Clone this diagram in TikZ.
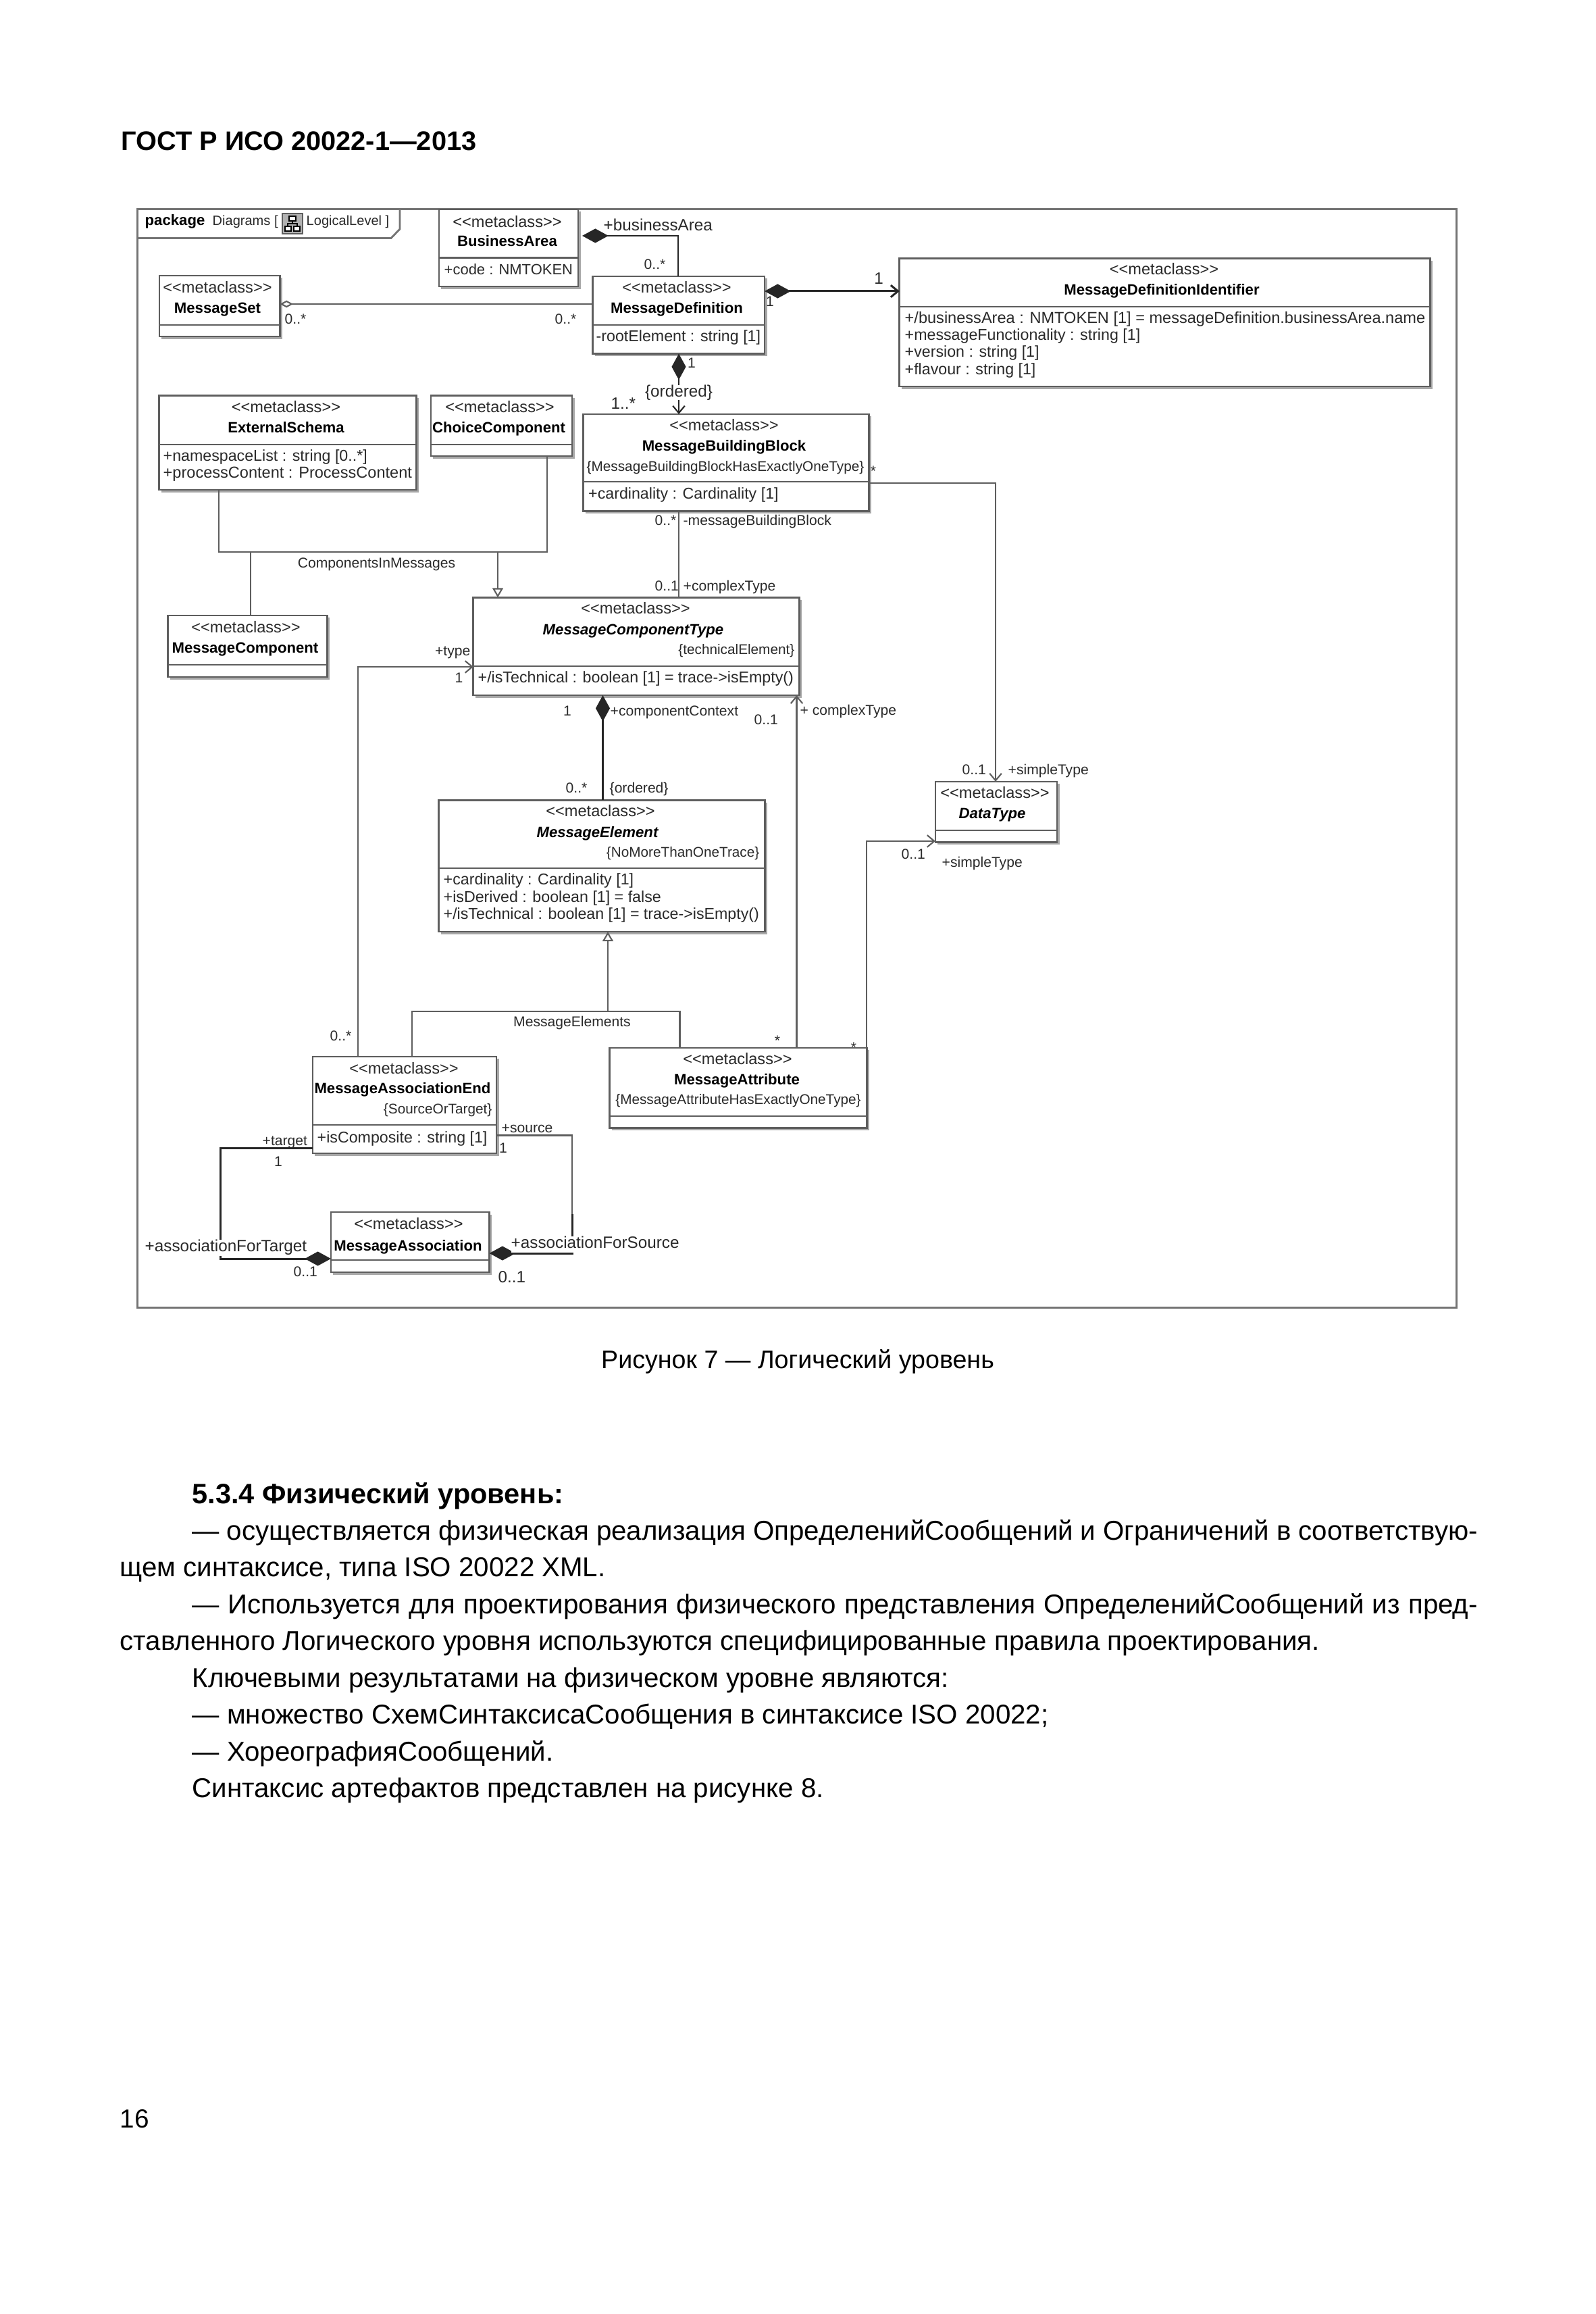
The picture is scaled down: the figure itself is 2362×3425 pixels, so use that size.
\documentclass[tikz,border=0pt]{standalone}
\usepackage{fontspec}
\setmainfont{Liberation Sans}
\newfontfamily\umlfont{Liberation Sans}
\usetikzlibrary{arrows.meta,shadows}
\definecolor{linegray}{HTML}{5E5E5E}
\definecolor{framegray}{HTML}{747474}
\definecolor{shadowgray}{HTML}{A8A8A8}
\definecolor{umltext}{HTML}{2A2A2A}
\newcommand{\umlsize}[1]{\fontsize{#1pt}{#1pt}\selectfont\umlfont}
\tikzset{
    classbox/.style = {draw=linegray, shape=rectangle, fill=white, inner sep=0pt, outer sep=0pt, line width=0.8pt,
        drop shadow={shadow xshift=1pt, shadow yshift=-1pt, fill=shadowgray, opacity=1}},
    compart/.style = {draw=linegray, line width=0.8pt},
    stereo/.style = {inner sep=0pt, text=umltext, text height=5pt, text depth=1.4pt, font=\umlsize{6.7}},
    classname/.style = {inner sep=0pt, text=black, text height=5pt, text depth=1.4pt, font=\umlsize{6.3}\bfseries},
    abstractname/.style = {classname, font=\umlsize{6.3}\bfseries\itshape},
    constraint/.style = {inner sep=0pt, text=umltext, text height=5pt, text depth=1.4pt, font=\umlsize{5.9}},
    attrib/.style = {anchor=west, inner sep=0pt, text=umltext, text height=5pt, text depth=1.4pt, font=\umlsize{6.6}},
    rolelabel/.style = {inner sep=0pt, text=umltext, text height=4.5pt, text depth=1.2pt, font=\umlsize{6}},
    biglabel/.style = {inner sep=0pt, text=umltext, text height=5pt, text depth=1.4pt, font=\umlsize{6.9}},
    assoc/.style = {draw=linegray, line width=0.6pt},
    assocdark/.style = {draw=black!85, line width=0.85pt},
    comp/.tip = {Diamond[length=11pt,width=6pt]},
    aggr/.tip = {Diamond[open,length=5.5pt,width=3pt]},
    barb/.tip = {Straight Barb[length=3pt,width=5pt]},
    gener/.tip = {Triangle[length=4pt,width=4.5pt,fill=white]},
    pagetext/.style = {anchor=base west, inner sep=0pt, font=\fontsize{11.45}{14}\selectfont},
}
\begin{document}
\begin{tikzpicture}[x=0.01cm, y=-0.01cm]
    \fill[white] (0,0) rectangle (2362,3425);
    \useasboundingbox (0,0) rectangle (2362,3425);

    % package frame
    \node[draw=framegray, line width=0.9pt, inner sep=0pt, outer sep=0pt, minimum width=19.52cm, minimum height=16.25cm] (frame) at (1180,1122.5) {};
    \draw[draw=framegray, line width=0.8pt] (frame.west |- 0,352.5) -- (579,352.5) -- (592,339) -- (frame.north -| 592,0);
    \node[anchor=west, inner sep=0pt, font=\umlsize{6.3}\bfseries] (pkgkey) at (214,328) {package};
    \node[anchor=west, inner sep=0pt, font=\umlsize{5.7}, text=umltext] (pkgname) at (314,328) {Diagrams [};
    \node[draw=linegray, fill=black!30, minimum width=0.3cm, minimum height=0.3cm, inner sep=0pt] (pkgicon) at (433,331) {};
    \draw[line width=0.4pt, fill=white] (428,320) rectangle (438,327);
    \draw[line width=0.4pt, fill=white] (422,335) rectangle (431,342);
    \draw[line width=0.4pt, fill=white] (435,335) rectangle (444,342);
    \draw[line width=0.4pt] (433,327) -- (433,331) (426,335) -- (426,331) -- (440,331) -- (440,335);
    \node[anchor=west, inner sep=0pt, font=\umlsize{5.7}, text=umltext] (pkgdiag) at (453,328) {LogicalLevel ]};

    % classes
    \node[classbox, minimum width=2.06cm, minimum height=1.14cm] (bizarea) at (753,367) {};
    \node[classbox, minimum width=1.785cm, minimum height=0.90cm] (msgset) at (325.25,453) {};
    \node[classbox, minimum width=2.545cm, minimum height=1.145cm] (msgdef) at (1004.75,466.25) {};
    \node[classbox, minimum width=3.80cm, minimum height=1.395cm] (extschema) at (426,655.25) {};
    \node[classbox, minimum width=2.09cm, minimum height=0.895cm] (choicecomp) at (742.5,630.25) {};
    \node[classbox, minimum width=4.22cm, minimum height=1.435cm] (msgblock) at (1075,684.75) {};
    \node[classbox, minimum width=2.36cm, minimum height=0.91cm] (msgcomp) at (366.5,956.5) {};
    \node[classbox, minimum width=4.825cm, minimum height=1.445cm] (comptype) at (942.25,956.75) {};
    \node[classbox, minimum width=4.82cm, minimum height=1.945cm] (msgelem) at (891,1281.75) {};
    \node[classbox, minimum width=7.85cm, minimum height=1.895cm] (defident) at (1724.5,477.25) {};
    \node[classbox, minimum width=1.80cm, minimum height=0.895cm] (datatype) at (1475,1201.75) {};
    \node[classbox, minimum width=3.80cm, minimum height=1.185cm] (msgattr) at (1093,1610.25) {};
    \node[classbox, minimum width=2.72cm, minimum height=1.43cm] (assocend) at (599,1635.5) {};
    \node[classbox, minimum width=2.345cm, minimum height=0.89cm] (msgassoc) at (607.25,1838.5) {};

    % compartments
    \draw[compart] (bizarea.west |- 0,381.5) -- (bizarea.east |- 0,381.5);
    \draw[compart] (msgset.west |- 0,481) -- (msgset.east |- 0,481);
    \draw[compart] (msgdef.west |- 0,481) -- (msgdef.east |- 0,481);
    \draw[compart] (extschema.west |- 0,658) -- (extschema.east |- 0,658);
    \draw[compart] (choicecomp.west |- 0,658) -- (choicecomp.east |- 0,658);
    \draw[compart] (msgblock.west |- 0,713) -- (msgblock.east |- 0,713);
    \draw[compart] (msgcomp.west |- 0,984) -- (msgcomp.east |- 0,984);
    \draw[compart] (comptype.west |- 0,986) -- (comptype.east |- 0,986);
    \draw[compart] (msgelem.west |- 0,1285) -- (msgelem.east |- 0,1285);
    \draw[compart] (defident.west |- 0,454) -- (defident.east |- 0,454);
    \draw[compart] (datatype.west |- 0,1229) -- (datatype.east |- 0,1229);
    \draw[compart] (msgattr.west |- 0,1652) -- (msgattr.east |- 0,1652);
    \draw[compart] (assocend.west |- 0,1665) -- (assocend.east |- 0,1665);
    \draw[compart] (msgassoc.west |- 0,1865) -- (msgassoc.east |- 0,1865);

    % class texts
    \node[stereo] (bizareaM) at (751,330) {<<metaclass>>};
    \node[classname] (bizareaN) at (751,358) {BusinessArea};
    \node[attrib, font=\umlsize{6.25}] (bizareaA) at (657,400) {+code : NMTOKEN};

    \node[stereo] (msgsetM) at (322,427.5) {<<metaclass>>};
    \node[classname] (msgsetN) at (322,457) {MessageSet};

    \node[stereo] (msgdefM) at (1002,427) {<<metaclass>>};
    \node[classname] (msgdefN) at (1002,457) {MessageDefinition};
    \node[attrib] (msgdefA) at (882,499) {-rootElement : string [1]};

    \node[stereo] (extschemaM) at (423.5,604) {<<metaclass>>};
    \node[classname] (extschemaN) at (423.5,634) {ExternalSchema};
    \node[attrib] (extschemaA) at (241,676) {+namespaceList : string [0..*]};
    \node[attrib, font=\umlsize{6.7}] (extschemaB) at (241,701) {+processContent : ProcessContent};

    \node[stereo] (choicecompM) at (740,604) {<<metaclass>>};
    \node[classname] (choicecompN) at (738.5,634) {ChoiceComponent};

    \node[stereo] (msgblockM) at (1072,631.5) {<<metaclass>>};
    \node[classname] (msgblockN) at (1072,661.5) {MessageBuildingBlock};
    \node[constraint] (msgblockC) at (1074,691) {\{MessageBuildingBlockHasExactlyOneType\}};
    \node[attrib] (msgblockA) at (870.5,732) {+cardinality : Cardinality [1]};

    \node[stereo] (msgcompM) at (364,930) {<<metaclass>>};
    \node[classname] (msgcompN) at (363,960) {MessageComponent};

    \node[stereo] (comptypeM) at (941,902.5) {<<metaclass>>};
    \node[abstractname] (comptypeN) at (937.5,933.5) {MessageComponentType};
    \node[constraint, anchor=east] (comptypeC) at (1177,962.5) {\{technicalElement\}};
    \node[attrib] (comptypeA) at (707,1004) {+/isTechnical : boolean [1] = trace->isEmpty()};

    \node[stereo] (msgelemM) at (889,1202) {<<metaclass>>};
    \node[abstractname] (msgelemN) at (884.5,1233) {MessageElement};
    \node[constraint, anchor=east] (msgelemC) at (1125,1262) {\{NoMoreThanOneTrace\}};
    \node[attrib] (msgelemA) at (656,1303) {+cardinality : Cardinality [1]};
    \node[attrib] (msgelemB) at (656,1329) {+isDerived : boolean [1] = false};
    \node[attrib] (msgelemD) at (656,1354) {+/isTechnical : boolean [1] = trace->isEmpty()};

    \node[stereo] (defidentM) at (1723.5,400) {<<metaclass>>};
    \node[classname] (defidentN) at (1720,430) {MessageDefinitionIdentifier};
    \node[attrib, font=\umlsize{6.7}] (defidentA) at (1339,472) {+/businessArea : NMTOKEN [1] = messageDefinition.businessArea.name};
    \node[attrib] (defidentB) at (1339,497.5) {+messageFunctionality : string [1]};
    \node[attrib] (defidentD) at (1339,522.5) {+version : string [1]};
    \node[attrib] (defidentE) at (1339,548) {+flavour : string [1]};

    \node[stereo] (datatypeM) at (1473,1175) {<<metaclass>>};
    \node[abstractname] (datatypeN) at (1469,1205.5) {DataType};

    \node[stereo] (msgattrM) at (1092,1569) {<<metaclass>>};
    \node[classname] (msgattrN) at (1091,1599) {MessageAttribute};
    \node[constraint] (msgattrC) at (1093,1628) {\{MessageAttributeHasExactlyOneType\}};

    \node[stereo] (assocendM) at (598,1583) {<<metaclass>>};
    \node[classname] (assocendN) at (596,1612.5) {MessageAssociationEnd};
    \node[constraint, anchor=east] (assocendC) at (729,1642) {\{SourceOrTarget\}};
    \node[attrib] (assocendA) at (469,1685) {+isComposite : string [1]};

    \node[stereo] (msgassocM) at (605,1813) {<<metaclass>>};
    \node[classname] (msgassocN) at (604,1845) {MessageAssociation};

    % junctions
    \coordinate (compbarl) at (324,817);
    \coordinate (compbarr) at (810,817);
    \coordinate (compjoin) at (737,817);
    \coordinate (compbranch) at (371,817);
    \coordinate (elembarl) at (610,1497);
    \coordinate (elembarr) at (1006.5,1497);
    \coordinate (elemjoin) at (900,1497);
    \coordinate (tgttop) at (326,1699);
    \coordinate (tgtbot) at (326,1863);
    \coordinate (srcbend) at (847,1797);

    % connectors
    \draw[assocdark, line width=0.7pt, {comp}-, shorten <=1.7pt] (bizarea.east |- 0,349) -| (msgdef.north -| 1004,0);
    \draw[assoc, {aggr}-] (msgset.east |- 0,450) -- (msgdef.west |- 0,450);
    \draw[assocdark, {comp}-{barb}] (msgdef.east |- 0,431) -- (defident.west |- 0,431);
    \draw[assocdark, line width=0.6pt, {comp}-{barb}] (msgdef.south -| 1005,0) -- (msgblock.north -| 1005,0);
    \draw[assoc] (msgblock.south -| 1005,0) -- (comptype.north -| 1005,0);
    \draw[assoc, -{barb}] (msgblock.east |- 0,715) -| (datatype.north -| 1474,0);
    \draw[assoc] (extschema.south -| 324,0) -- (compbarl) -- (compbarr) -- (choicecomp.south -| 810,0);
    \draw[assoc, -{gener}] (compjoin) -- (comptype.north -| 737,0);
    \draw[assoc] (compbranch) -- (msgcomp.north -| 371,0);
    \draw[assoc, -{barb}] (assocend.north -| 530,0) |- (comptype.west |- 0,987);
    \draw[assocdark, {comp}-] (comptype.south -| 892.5,0) -- (msgelem.north -| 892.5,0);
    \draw[assoc, -{barb}] (msgattr.north -| 1179.5,0) -- (comptype.south -| 1179.5,0);
    \draw[assoc, -{gener}] (elemjoin) -- (msgelem.south -| 900,0);
    \draw[assoc] (assocend.north -| 610,0) -- (elembarl) -- (elembarr) -- (msgattr.north -| 1006.5,0);
    \draw[assoc, -{barb}] (msgattr.north east) |- (datatype.west |- 0,1245);
    \draw[assocdark, -{comp}] (assocend.west |- 0,1699) -- (tgttop) -- (tgtbot) -- (msgassoc.west |- 0,1863);
    \draw[assoc] (assocend.east |- 0,1680.5) -| (srcbend);
    \draw[assocdark, -{comp}] (srcbend) |- (msgassoc.east |- 0,1855);

    % role and multiplicity labels
    \node[biglabel, anchor=west] (lbizrole) at (893,335) {+businessArea};
    \node[rolelabel, anchor=west] (lbizmult) at (953,393) {0..*};
    \node[rolelabel, anchor=west] (lsetmulta) at (421,474) {0..*};
    \node[rolelabel, anchor=west] (lsetmultb) at (821,474) {0..*};
    \node[biglabel] (lidentmult) at (1301,414) {1};
    \node[rolelabel] (ldefone) at (1140,448) {1};
    \node[rolelabel] (lblockone) at (1024,539) {1};
    \node[biglabel, fill=white] (lblockord) at (1005,581) {\{ordered\}};
    \node[biglabel, anchor=west] (lblockmult) at (904,599) {1..*};
    \node[rolelabel, anchor=west] (lblockmulta) at (969,772) {0..*};
    \node[rolelabel, anchor=west] (lblockrole) at (1011,772) {-messageBuildingBlock};
    \node[rolelabel, anchor=west] (ltypemult) at (969,869) {0..1};
    \node[rolelabel, anchor=west] (ltyperole) at (1011,869) {+complexType};
    \node[rolelabel] (lblockstar) at (1293,699) {*};
    \node[rolelabel, anchor=west] (ldatamult) at (1424,1141) {0..1};
    \node[rolelabel, anchor=west] (ldatarole) at (1492,1141) {+simpleType};
    \node[rolelabel] (lcompnames) at (557.5,835) {ComponentsInMessages};
    \node[rolelabel, anchor=east] (lcomprole) at (697,965) {+type};
    \node[rolelabel] (lcompone) at (679.5,1005) {1};
    \node[rolelabel, anchor=west] (lendmult) at (488,1535) {0..*};
    \node[rolelabel] (lctxone) at (840,1054) {1};
    \node[rolelabel, anchor=west] (lctxrole) at (903,1054) {+componentContext};
    \node[rolelabel, anchor=west] (lelemmult) at (837,1168) {0..*};
    \node[rolelabel, anchor=west] (lelemord) at (902,1168) {\{ordered\}};
    \node[rolelabel, anchor=west] (lcplxmult) at (1116,1067) {0..1};
    \node[rolelabel, anchor=west] (lcplxrole) at (1184,1053) {+ complexType};
    \node[rolelabel] (lattrstara) at (1151,1542) {*};
    \node[rolelabel] (lelemsname) at (847,1514) {MessageElements};
    \node[rolelabel] (lattrstarb) at (1264,1552) {*};
    \node[rolelabel, anchor=west] (lsimplemult) at (1334,1266) {0..1};
    \node[rolelabel, anchor=west] (lsimplerole) at (1394,1278) {+simpleType};
    \node[rolelabel, anchor=west] (ltgtrole) at (388,1690) {+target};
    \node[rolelabel] (ltgtone) at (412,1721) {1};
    \node[biglabel, anchor=west, fill=white, text depth=2pt] (ltgtassoc) at (214,1847) {+associationForTarget};
    \node[rolelabel, anchor=west] (ltgtmult) at (434,1884) {0..1};
    \node[rolelabel, anchor=west] (lsrcrole) at (742,1671) {+source};
    \node[rolelabel] (lsrcone) at (745,1701) {1};
    \node[biglabel, anchor=west, fill=white, text depth=2pt] (lsrcassoc) at (756,1842) {+associationForSource};
    \node[biglabel, anchor=west] (lsrcmult) at (737,1892) {0..1};

    % page text
    \node[pagetext, font=\fontsize{11.3}{14}\selectfont\bfseries] (header) at (179,223) {ГОСТ Р ИСО 20022-1—2013};
    \node[pagetext, anchor=base, font=\fontsize{10.7}{14}\selectfont] (caption) at (1181,2025) {Рисунок 7 — Логический уровень};
    \node[pagetext, font=\fontsize{11.8}{14}\selectfont\bfseries] (sechead) at (284,2225) {5.3.4 Физический уровень:};
    \node[pagetext] (linea) at (284,2279) {\makebox[19.02cm][s]{— осуществляется физическая реализация ОпределенийСообщений и Ограничений в соответствую-}};
    \node[pagetext] (lineb) at (177,2333) {щем синтаксисе, типа ISO 20022 XML.};
    \node[pagetext] (linec) at (284,2388) {\makebox[19.02cm][s]{— Используется для проектирования физического представления ОпределенийСообщений из пред-}};
    \node[pagetext] (lined) at (177,2442) {ставленного Логического уровня используются специфицированные правила проектирования.};
    \node[pagetext] (linee) at (284,2497) {Ключевыми результатами на физическом уровне являются:};
    \node[pagetext] (linef) at (284,2551) {— множество СхемСинтаксисаСообщения в синтаксисе ISO 20022;};
    \node[pagetext] (lineg) at (284,2606) {— ХореографияСообщений.};
    \node[pagetext] (lineh) at (284,2660) {Синтаксис артефактов представлен на рисунке 8.};
    \node[pagetext, font=\fontsize{11}{14}\selectfont] (pagenum) at (177,3149) {16};
\end{tikzpicture}
\end{document}
